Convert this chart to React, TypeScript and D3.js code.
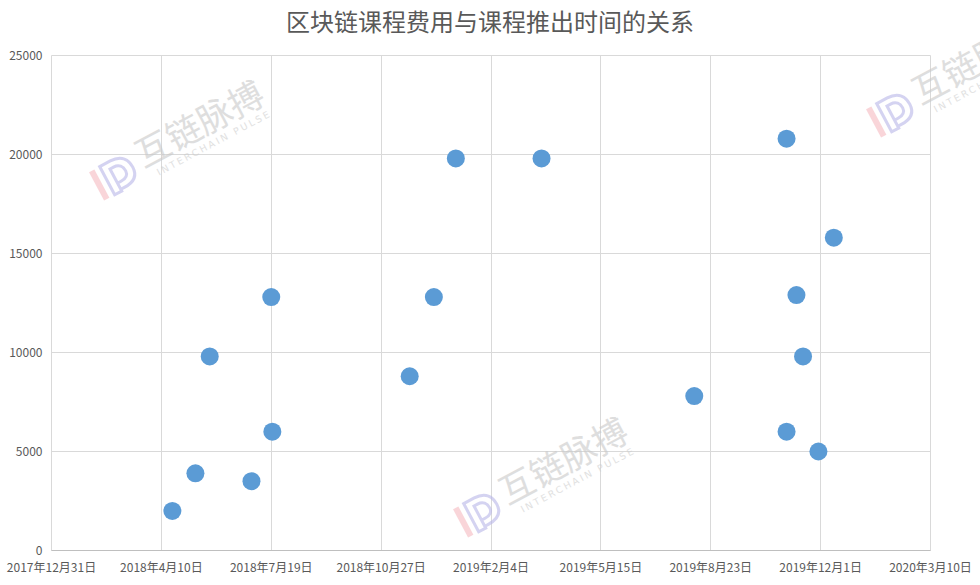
import React from "react";
import * as d3 from "d3";

const title = "区块链课程费用与课程推出时间的关系";
const dates = [
  "2018-04-20", "2018-05-11", "2018-05-24", "2018-07-01", "2018-07-19", "2018-07-20",
  "2018-11-22", "2018-12-14", "2019-01-03", "2019-03-22", "2019-08-08",
  "2019-10-31", "2019-10-31", "2019-11-09", "2019-11-15", "2019-11-29", "2019-12-13",
];
const fees = [
  2000, 3900, 9800, 3500, 12800, 6000,
  8800, 12800, 19800, 19800, 7800,
  20800, 6000, 12900, 9800, 5000, 15800,
];
const xTickDates = [
  "2017-12-31", "2018-04-10", "2018-07-19", "2018-10-27", "2019-02-04",
  "2019-05-15", "2019-08-23", "2019-12-01", "2020-03-10",
];
const yTicks = [0, 5000, 10000, 15000, 20000, 25000];

const W = 980, H = 585;
const M = { left: 51.5, right: 49.5, top: 55.5, bottom: 34.5 };

const parse = (s: string) => {
  const [y, m, d] = s.split("-").map(Number);
  return new Date(y, m - 1, d);
};
const fmt = (d: Date) => `${d.getFullYear()}年${d.getMonth() + 1}月${d.getDate()}日`;

function Watermark({ x, y }: { x: number; y: number }) {
  return (
    <g transform={`translate(${x},${y}) rotate(-28)`} opacity={0.6}>
      <path d="M-18,-15 L-12,-15 L-12,17 L-18,17 Z" fill="#f4a9b0" opacity={0.8} />
      <path
        d="M-6,17 L-6,-15 L6,-15 C19,-15 23,-7 23,1 C23,9 19,15 6,15 L2,15 L2,8 L6,8 C12,8 15,5 15,1 C15,-4 12,-8 6,-8 L2,-8 L2,17 Z"
        fill="none"
        stroke="#b9b6e8"
        strokeWidth={3}
      />
      <text x={32} y={7} fontSize={35} fill="#c9c9c9" fontFamily="'Noto Sans CJK SC', sans-serif" fontWeight={400}>
        互链脉搏
      </text>
      <text x={42} y={21} fontSize={9.5} fill="#cdcdcd" textLength={126} lengthAdjust="spacing" fontFamily="'DejaVu Sans', sans-serif">
        INTERCHAIN PULSE
      </text>
    </g>
  );
}

export default function App() {
  const x = d3
    .scaleTime()
    .domain([parse(xTickDates[0]), parse(xTickDates[xTickDates.length - 1])])
    .range([M.left, W - M.right]);
  const y = d3.scaleLinear().domain([0, 25000]).range([H - M.bottom, M.top]);
  const xt = xTickDates.map(parse);
  const font = "'Noto Sans CJK SC', 'Noto Sans', sans-serif";
  const snap = (v: number) => Math.round(v - 0.5) + 0.5;

  return (
    <svg width={W} height={H} style={{ position: "absolute", left: 0, top: 0, background: "#fff" }}>
      <rect width={W} height={H} fill="#fff" />
      <text x={490} y={31} textAnchor="middle" fontSize={24} fill="#595959" fontFamily={font}>
        {title}
      </text>
      {yTicks.map((t) => (
        <line key={"gy" + t} x1={M.left} x2={W - M.right} y1={snap(y(t))} y2={snap(y(t))} stroke="#d9d9d9" strokeWidth={1} />
      ))}
      {xt.map((d, i) => (
        <line key={"gx" + i} x1={snap(x(d))} x2={snap(x(d))} y1={M.top} y2={H - M.bottom} stroke="#d9d9d9" strokeWidth={1} />
      ))}
      <line x1={M.left} x2={W - M.right} y1={snap(y(0))} y2={snap(y(0))} stroke="#bfbfbf" strokeWidth={1} />
      {yTicks.map((t) => (
        <text key={"ty" + t} x={M.left - 9} y={y(t) + 4} textAnchor="end" fontSize={12} fill="#595959" fontFamily={font}>
          {t}
        </text>
      ))}
      {xt.map((d, i) => (
        <text key={"tx" + i} x={x(d)} y={H - M.bottom + 21} textAnchor="middle" fontSize={12} fill="#595959" fontFamily={font}>
          {fmt(d)}
        </text>
      ))}
      <Watermark x={112} y={177} />
      <Watermark x={476} y={514} />
      <Watermark x={889} y={114} />
      {dates.map((d, i) => (
        <circle key={"p" + i} cx={x(parse(d))} cy={y(fees[i])} r={9} fill="#5b9bd5" />
      ))}
    </svg>
  );
}
